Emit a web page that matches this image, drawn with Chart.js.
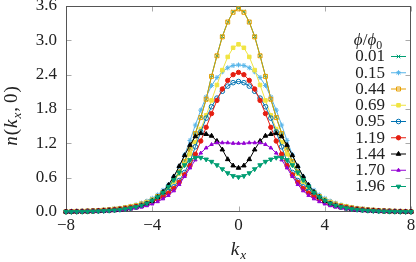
<!DOCTYPE html>
<html>
<head>
<meta charset="utf-8">
<script src="https://cdn.jsdelivr.net/npm/chart.js@4.4.1/dist/chart.umd.min.js"></script>
<style>
html, body { margin: 0; padding: 0; background: #fff; }
</style>
</head>
<body>
<canvas id="chart" width="416" height="262"></canvas>
<script>
var kx = [-8,-7.75,-7.5,-7.25,-7,-6.75,-6.5,-6.25,-6,-5.75,-5.5,-5.25,-5,-4.75,-4.5,-4.25,-4,-3.75,-3.5,-3.25,-3,-2.75,-2.5,-2.25,-2,-1.75,-1.5,-1.25,-1,-0.75,-0.5,-0.25,
          0,0.25,0.5,0.75,1,1.25,1.5,1.75,2,2.25,2.5,2.75,3,3.25,3.5,3.75,4,4.25,4.5,4.75,5,5.25,5.5,5.75,6,6.25,6.5,6.75,7,7.25,7.5,7.75,8];
var xTicks = [-8, -4, 0, 4, 8];
var yTicks = [0, 0.6, 1.2, 1.8, 2.4, 3.0, 3.6];
var phiLabels = ['0.01', '0.15', '0.44', '0.69', '0.95', '1.19', '1.44', '1.70', '1.96'];

var n001 = [0.007,0.009,0.011,0.014,0.018,0.022,0.027,0.033,0.041,0.051,0.063,0.078,0.096,0.118,0.145,0.18,0.22,0.28,0.35,0.44,0.56,0.71,0.89,1.11,1.38,1.66,1.97,2.38,2.73,3.07,3.32,3.50,
            3.56,3.50,3.32,3.07,2.73,2.38,1.97,1.66,1.38,1.11,0.89,0.71,0.56,0.44,0.35,0.28,0.22,0.18,0.145,0.118,0.096,0.078,0.063,0.051,0.041,0.033,0.027,0.022,0.018,0.014,0.011,0.009,0.007];
var n015 = [0.007,0.009,0.011,0.014,0.017,0.022,0.027,0.034,0.042,0.052,0.065,0.08,0.10,0.125,0.155,0.19,0.24,0.30,0.38,0.48,0.62,0.79,1.00,1.25,1.52,1.78,2.01,2.21,2.35,2.45,2.52,2.56,
            2.57,2.56,2.52,2.45,2.35,2.21,2.01,1.78,1.52,1.25,1.00,0.79,0.62,0.48,0.38,0.30,0.24,0.19,0.155,0.125,0.10,0.08,0.065,0.052,0.042,0.034,0.027,0.022,0.017,0.014,0.011,0.009,0.007];
var n044 = [0.007,0.009,0.011,0.013,0.017,0.021,0.026,0.032,0.040,0.049,0.061,0.075,0.092,0.113,0.14,0.17,0.21,0.27,0.34,0.43,0.55,0.70,0.88,1.10,1.37,1.65,1.97,2.37,2.73,3.06,3.32,3.49,
            3.55,3.49,3.32,3.06,2.73,2.37,1.97,1.65,1.37,1.10,0.88,0.70,0.55,0.43,0.34,0.27,0.21,0.17,0.14,0.113,0.092,0.075,0.061,0.049,0.040,0.032,0.026,0.021,0.017,0.013,0.011,0.009,0.007];
var n069 = [0.006,0.008,0.01,0.013,0.016,0.02,0.025,0.031,0.039,0.048,0.059,0.073,0.09,0.11,0.135,0.17,0.21,0.26,0.33,0.42,0.53,0.67,0.83,1.01,1.22,1.45,1.69,1.95,2.22,2.48,2.71,2.87,
            2.93,2.87,2.71,2.48,2.22,1.95,1.69,1.45,1.22,1.01,0.83,0.67,0.53,0.42,0.33,0.26,0.21,0.17,0.135,0.11,0.09,0.073,0.059,0.048,0.039,0.031,0.025,0.02,0.016,0.013,0.01,0.008,0.006];
var n095 = [0.006,0.007,0.009,0.011,0.014,0.018,0.022,0.027,0.033,0.041,0.051,0.063,0.078,0.097,0.12,0.15,0.19,0.23,0.29,0.36,0.44,0.55,0.69,0.88,1.14,1.40,1.64,1.84,1.99,2.11,2.20,2.26,
            2.28,2.26,2.20,2.11,1.99,1.84,1.64,1.40,1.14,0.88,0.69,0.55,0.44,0.36,0.29,0.23,0.19,0.15,0.12,0.097,0.078,0.063,0.051,0.041,0.033,0.027,0.022,0.018,0.014,0.011,0.009,0.007,0.006];
var n119 = [0.005,0.007,0.009,0.011,0.014,0.018,0.022,0.027,0.033,0.041,0.051,0.063,0.078,0.096,0.118,0.145,0.18,0.22,0.27,0.33,0.41,0.52,0.65,0.81,1.01,1.24,1.48,1.72,1.95,2.15,2.30,2.40,
            2.44,2.40,2.30,2.15,1.95,1.72,1.48,1.24,1.01,0.81,0.65,0.52,0.41,0.33,0.27,0.22,0.18,0.145,0.118,0.096,0.078,0.063,0.051,0.041,0.033,0.027,0.022,0.018,0.014,0.011,0.009,0.007,0.005];
var n144 = [0.003,0.003,0.004,0.006,0.007,0.009,0.012,0.016,0.021,0.027,0.035,0.046,0.06,0.08,0.105,0.14,0.19,0.26,0.35,0.47,0.62,0.80,0.99,1.17,1.32,1.375,1.36,1.33,1.24,1.09,0.92,0.81,
            0.77,0.81,0.92,1.09,1.24,1.33,1.36,1.375,1.32,1.17,0.99,0.80,0.62,0.47,0.35,0.26,0.19,0.14,0.105,0.08,0.06,0.046,0.035,0.027,0.021,0.016,0.012,0.009,0.007,0.006,0.004,0.003,0.003];
var n170 = [0.002,0.003,0.004,0.005,0.007,0.009,0.011,0.015,0.019,0.024,0.031,0.04,0.052,0.066,0.085,0.11,0.14,0.18,0.23,0.29,0.37,0.48,0.62,0.77,0.91,1.03,1.12,1.18,1.21,1.21,1.21,1.20,
            1.20,1.20,1.21,1.21,1.21,1.18,1.12,1.03,0.91,0.77,0.62,0.48,0.37,0.29,0.23,0.18,0.14,0.11,0.085,0.066,0.052,0.04,0.031,0.024,0.019,0.015,0.011,0.009,0.007,0.005,0.004,0.003,0.002];
var n196 = [0.003,0.004,0.005,0.006,0.008,0.011,0.014,0.018,0.024,0.031,0.04,0.052,0.068,0.088,0.115,0.15,0.20,0.26,0.34,0.44,0.56,0.69,0.82,0.91,0.95,0.95,0.92,0.88,0.82,0.75,0.68,0.63,
            0.61,0.63,0.68,0.75,0.82,0.88,0.92,0.95,0.95,0.91,0.82,0.69,0.56,0.44,0.34,0.26,0.20,0.15,0.115,0.088,0.068,0.052,0.04,0.031,0.024,0.018,0.014,0.011,0.008,0.006,0.005,0.004,0.003];

var FONT = 'Liberation Serif';

function series(idx, values, color, style, open, radius, rotation) {
    return {
        label: phiLabels[idx],
        data: kx.map(function (k, i) { return { x: k, y: values[i] }; }),
        borderColor: color,
        backgroundColor: color,
        borderWidth: 1,
        pointStyle: style,
        pointRadius: radius,
        pointRotation: rotation || 0,
        pointBorderWidth: 1,
        pointBorderColor: color,
        pointBackgroundColor: open ? 'rgba(0,0,0,0)' : color,
        tension: 0,
        clip: false,
        order: -idx
    };
}

var datasets = [
    series(0, n001, '#009e73', 'crossRot', false, 2.5),
    series(1, n015, '#56b4e9', 'star', false, 2.5),
    series(2, n044, '#e69f00', 'rect', true, 2.8),
    series(3, n069, '#f0e442', 'rect', false, 2.5),
    series(4, n095, '#0072b2', 'circle', true, 2.3),
    series(5, n119, '#e51e10', 'circle', false, 2.2),
    series(6, n144, '#000000', 'triangle', false, 2.6),
    series(7, n170, '#9400d3', 'triangle', false, 2.0),
    series(8, n196, '#009e73', 'triangle', false, 2.6, 180)
];

// draw text made of italic / upright / subscript pieces, centred on (cx, by baseline)
function richText(ctx, parts, cx, by, size) {
    var total = 0;
    parts.forEach(function (p) {
        ctx.font = (p.it ? 'italic ' : '') + (p.sub ? size * 0.7 : size) + 'px "' + FONT + '"';
        p.w = ctx.measureText(p.t).width + (p.gap || 0);
        total += p.w;
    });
    var x = cx - total / 2;
    ctx.textAlign = 'left';
    ctx.textBaseline = 'alphabetic';
    parts.forEach(function (p) {
        ctx.font = (p.it ? 'italic ' : '') + (p.sub ? size * 0.7 : size) + 'px "' + FONT + '"';
        ctx.fillText(p.t, x, by + (p.sub ? size * 0.22 : 0));
        x += p.w;
    });
}

var framePlugin = {
    id: 'frame',
    beforeDatasetsDraw: function (chart) {
        var ctx = chart.ctx, a = chart.chartArea;
        var xs = chart.scales.x, ys = chart.scales.y;
        var l = Math.round(a.left) + 0.5, r = Math.round(a.right) - 0.5;
        var t = Math.round(a.top) + 0.5, b = Math.round(a.bottom) - 0.5;
        ctx.save();
        ctx.lineWidth = 1;
        ctx.strokeStyle = '#aaaaaa';
        ctx.beginPath();
        yTicks.forEach(function (v) {
            var p = Math.round(ys.getPixelForValue(v)) + 0.5;
            ctx.moveTo(l, p); ctx.lineTo(l + 5, p);
            ctx.moveTo(r, p); ctx.lineTo(r - 5, p);
        });
        xTicks.forEach(function (v) {
            var p = Math.round(xs.getPixelForValue(v)) + 0.5;
            ctx.moveTo(p, b); ctx.lineTo(p, b - 5);
            ctx.moveTo(p, t); ctx.lineTo(p, t + 5);
        });
        ctx.stroke();
        ctx.strokeStyle = '#555555';
        ctx.strokeRect(l, t, r - l, b - t);
        ctx.restore();
    },
    afterDraw: function (chart) {
        var ctx = chart.ctx, a = chart.chartArea;
        ctx.save();
        ctx.fillStyle = '#222';
        // x title
        richText(ctx, [{ t: 'k', it: true, gap: 1 }, { t: 'x', it: true, sub: true }], (a.left + a.right) / 2, 255, 19);
        // y title
        ctx.save();
        ctx.translate(17, 116);
        ctx.rotate(-Math.PI / 2);
        richText(ctx, [{ t: 'n', it: true, gap: 1 }, { t: '(', gap: 1 }, { t: 'k', it: true, gap: 1 },
                       { t: 'x', it: true, sub: true, gap: 1 }, { t: ',', gap: 4 }, { t: '0', gap: 1 }, { t: ')' }], 0, 0, 19);
        ctx.restore();
        // legend
        richText(ctx, [{ t: '\u03d5', it: true }, { t: '/' }, { t: '\u03d5', it: true }, { t: '0', sub: true }], 368, 45, 17);
        ctx.font = '17px "' + FONT + '"';
        ctx.textAlign = 'right';
        ctx.textBaseline = 'middle';
        chart.data.datasets.forEach(function (ds, i) {
            var y = 56 + i * 16.25;
            ctx.fillStyle = '#222';
            ctx.fillText(ds.label, 385, y + 1);
            ctx.strokeStyle = ds.borderColor;
            ctx.lineWidth = 1;
            ctx.beginPath();
            ctx.moveTo(391, y + 0.5); ctx.lineTo(406, y + 0.5);
            ctx.stroke();
            if (Chart.helpers && Chart.helpers.drawPoint) {
                ctx.fillStyle = ds.pointBackgroundColor;
                ctx.strokeStyle = ds.pointBorderColor;
                Chart.helpers.drawPoint(ctx, {
                    pointStyle: ds.pointStyle, radius: ds.pointRadius,
                    rotation: ds.pointRotation, borderWidth: 1
                }, 398.5, y + 0.5);
            }
        });
        ctx.restore();
    }
};

new Chart(document.getElementById('chart'), {
    type: 'line',
    data: { datasets: datasets },
    options: {
        responsive: false,
        devicePixelRatio: 1,
        animation: false,
        events: [],
        layout: { padding: { left: 0, right: 4, top: 6, bottom: 0 } },
        plugins: { legend: { display: false }, tooltip: { enabled: false } },
        scales: {
            x: {
                type: 'linear',
                min: -8,
                max: 8,
                afterBuildTicks: function (scale) {
                    scale.ticks = xTicks.map(function (v) { return { value: v }; });
                },
                afterFit: function (scale) {
                    scale.height = 50;
                    scale.paddingLeft = 0; scale.paddingRight = 0;
                    scale.paddingTop = 0; scale.paddingBottom = 0;
                },
                ticks: {
                    autoSkip: false,
                    maxRotation: 0,
                    padding: 3,
                    color: '#222',
                    font: { family: FONT, size: 17 },
                    callback: function (v) { return v < 0 ? '\u2212' + Math.abs(v) : String(v); }
                },
                grid: { display: false, drawTicks: false },
                border: { display: false }
            },
            y: {
                min: 0,
                max: 3.6,
                afterBuildTicks: function (scale) {
                    scale.ticks = yTicks.map(function (v) { return { value: v }; });
                },
                afterFit: function (scale) {
                    scale.width = 66;
                    scale.paddingLeft = 0; scale.paddingRight = 0;
                    scale.paddingTop = 0; scale.paddingBottom = 0;
                },
                ticks: {
                    autoSkip: false,
                    padding: 9,
                    color: '#222',
                    font: { family: FONT, size: 17 },
                    callback: function (v) { return Number(v).toFixed(1); }
                },
                grid: { display: false, drawTicks: false },
                border: { display: false }
            }
        }
    },
    plugins: [framePlugin]
});
</script>
</body>
</html>
